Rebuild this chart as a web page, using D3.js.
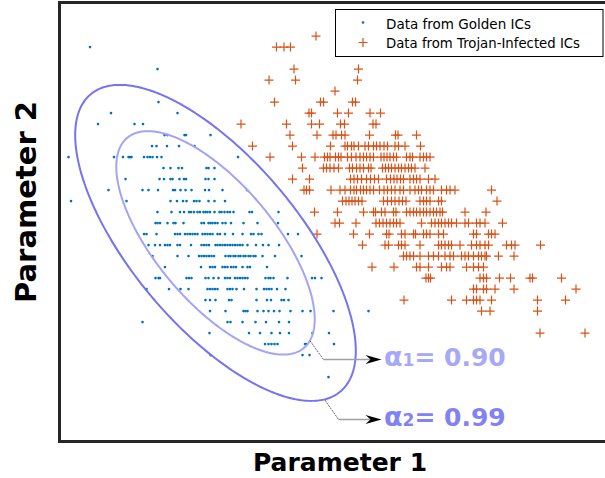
<!DOCTYPE html>
<html>
<head>
<meta charset="utf-8">
<script src="https://cdn.jsdelivr.net/npm/d3@7"></script>
<style>
  html, body { margin: 0; padding: 0; background: #fff; }
  svg { display: block; }
</style>
</head>
<body>
<svg id="chart" width="605" height="478"></svg>
<script>
// Parameter 1 readings of golden ICs, grouped by their (quantised) Parameter 2 level
const goldenRows = [
  [35, [6]],
  [33, [19.5]],
  [30, [19.7]],
  [29, [10.2, 23.5]],
  [28, [7.6, 14.9, 16.6]],
  [27, [20.9, 21.5, 24.9, 25.2, 30.1]],
  [26, [18.4, 19.3, 21.4, 23.8, 26.9]],
  [25, [1.7, 10.8, 12.6, 13.7, 14, 14.3, 16.8, 17.5, 18, 18.5, 19.4, 20.3, 35.6]],
  [24, [20.7, 22.1, 23.7, 24.4, 29.3, 29.7, 30.9]],
  [23, [13.1, 19.9, 20.8, 22.1, 22.5, 23.9, 24.8, 25.2, 29.1, 29.7, 30.9]],
  [22, [9.7, 16.5, 17.7, 19.6, 22.6, 23, 24.1, 25.1, 26.3, 29, 29.8, 32.5, 37.4]],
  [21, [2.2, 13.3, 22.1, 23.4, 24.6, 25.3, 26.8, 27.3, 27.9, 29.7, 30.9, 33]],
  [20, [19.5, 22.3, 24, 24.8, 25.8, 26.2, 26.8, 27.5, 28, 28.7, 29.1, 29.5, 30, 30.9, 31.9, 32.3, 32.9, 33.5, 34, 34.7, 37.9, 38.4, 43.7]],
  [19, [19.1, 19.5, 20, 21.5, 22.7, 23.1, 24.7, 28.3, 28.8, 29.7, 30.1, 30.5, 31, 31.5, 32.5, 33.1, 34.2, 36.7, 39.5, 43.6]],
  [18, [16.8, 17.3, 19.3, 23, 23.5, 24, 25, 25.5, 26, 26.5, 27, 27.5, 28.5, 29, 29.5, 30, 30.5, 31.5, 32, 33, 34.6, 36.5, 38.2, 38.7, 39.7, 40.3, 45.6, 47.6]],
  [17, [17.7, 19, 20, 21, 21.5, 22, 23.5, 24, 26.2, 28.3, 28.8, 29.3, 29.8, 31.1, 31.5, 32, 32.5, 33, 33.5, 34, 34.5, 35, 35.5, 36, 36.5, 37.5, 39.2, 40.6, 41.7, 43.8]],
  [16, [18.5, 23.5, 25.7, 27.8, 28.3, 28.8, 29.3, 29.8, 30.3, 30.8, 33.1, 33.7, 34.1, 34.7, 35.1, 35.7, 36.1, 36.7, 37.1, 37.7, 38.1, 38.7, 39.1, 40.5, 43, 48.3]],
  [15, [21, 28.2, 30, 30.5, 31, 32.5, 33, 33.5, 34.2, 34.7, 35.2, 36.5, 37.5, 38, 41.4]],
  [14, [19.1, 19.7, 20, 25.3, 25.8, 26.3, 29.1, 29.7, 30.7, 31.7, 33, 33.5, 34, 35, 35.5, 36, 36.5, 37, 37.5, 41.1, 41.7, 42.1, 42.7, 45.5, 50.4, 51, 52.3]],
  [13, [17.3, 21.8, 24.1, 25.7, 29.5, 30, 30.5, 31, 31.5, 33.5, 34, 34.5, 35.3, 36.8, 39.3, 40.8, 41.3, 41.8, 42.3, 43.4, 45.1]],
  [12, [29.1, 30, 31.1, 33.8, 34.3, 39.3, 41.4, 42.2, 44.3, 44.8, 45.7]],
  [11, [30, 33.1, 36.7, 37.1, 37.5, 39.5, 40.7, 41.7, 42.8, 43.9, 46.1, 48.5, 50.1, 54.7, 61.7]],
  [10, [16.5, 33.5, 34.1, 36.5, 39.1, 41.2, 43.8, 45.8]],
  [9,  [29.9, 37.8, 40, 42.3, 44, 45.8, 50.5, 53.8]],
  [8,  [41, 41.7, 42.3, 42.9, 43.5, 49, 49.4, 54.8]],
  [7,  [30.1, 48.5, 49.9]],
  [5,  [53.7]]
];

// Parameter 1 readings of Trojan-infected ICs, grouped by Parameter 2 level
const trojanRows = [
  [36, [51.2]],
  [35, [43.3, 44.8, 46.1]],
  [33, [46.8, 59.7]],
  [32, [41.8, 47.1, 59.5]],
  [31, [55]],
  [30, [42.9, 52.1, 52.7, 58.5, 59.1]],
  [29, [49.8, 50.3, 55.5, 57.7, 62, 64.1]],
  [28, [36.2, 45.3, 50.3, 51.9, 56.1, 56.9, 62.6, 63.2]],
  [27, [46, 51.4, 54.6, 55.2, 56.3, 57, 61.9, 67.1, 67.6, 71.3]],
  [26, [38.5, 46.5, 54.1, 57, 57.5, 58.3, 58.8, 59.7, 61, 61.7, 62.7, 63.3, 64, 64.8, 65.5, 67, 67.7, 69, 72.1]],
  [25, [42, 48.3, 51, 52.9, 53.5, 54, 55.1, 55.7, 56.2, 57.5, 58.3, 59.2, 60, 60.7, 61.3, 62, 62.7, 64.2, 64.8, 65.4, 66, 66.7, 67.3, 69.3, 70, 70.5, 72, 72.7, 73.3, 74]],
  [24, [48.5, 52.7, 53.3, 54, 54.8, 55.7, 57.9, 58.5, 59.3, 60, 60.7, 61.7, 62.2, 64.5, 65.1, 65.7, 66.3, 67, 67.7, 68.3, 69, 69.7, 70.3, 71, 73]],
  [23, [46.5, 49.9, 58.1, 58.8, 59.5, 60.3, 61.3, 62.1, 62.9, 63.7, 65.3, 66.1, 66.8, 67.4, 68.1, 68.7, 70, 70.7, 71.3, 72, 73.7, 75]],
  [22, [48.8, 49.3, 49.9, 54.2, 56, 57, 58.1, 58.8, 59.3, 60.1, 60.7, 61.3, 62, 62.7, 63.9, 64.8, 65.5, 66.3, 67, 68, 68.7, 70, 71, 71.7, 72.3, 73.3, 74, 74.7, 76.3, 77.3, 78, 79, 86.3]],
  [21, [56.5, 57.2, 57.8, 58.4, 59, 59.7, 60.4, 64.7, 65.5, 66.3, 67, 67.8, 68.5, 69.2, 72, 72.7, 73.3, 74, 75.7, 76.3, 87.4]],
  [20, [50.9, 55.5, 60.7, 62.7, 63.1, 64.3, 65, 66.7, 67.2, 69.3, 70, 70.7, 71.3, 72, 72.7, 73.3, 74, 74.7, 75.3, 76, 76.5, 81, 85.2]],
  [19, [55, 55.9, 59.2, 63.2, 63.9, 64.6, 65.3, 66, 66.7, 67.3, 68, 72.3, 74.3, 75, 75.7, 76.3, 77, 77.7, 78.3, 79.3, 81, 81.7, 83.3, 84, 85, 88.5]],
  [18, [51.4, 58.7, 61.9, 65.3, 65.8, 68.3, 69, 70.7, 71.1, 72.7, 73.3, 74, 75.7, 76.7, 82.7, 83.3, 85.7, 86.3, 87]],
  [17, [60.5, 65, 65.7, 67.7, 68.3, 69, 72, 75.7, 76.3, 77, 77.7, 78.3, 80, 82.3, 83.3, 84, 85, 85.7, 89.3, 90.3, 91, 96.1]],
  [16, [68.7, 69.3, 70, 70.7, 72, 73.7, 74.7, 75.7, 77, 78, 78.7, 80.3, 81, 81.7, 82.7, 83.7, 84.3, 85, 85.3, 87.7, 90.8]],
  [15, [62.4, 66.8, 71.3, 72, 73.7, 76.3, 77.3, 78, 81.3, 82.7, 83.7, 84.7]],
  [14, [73.2, 73.7, 74.1, 84, 84.7, 85.3, 87.9, 90.1, 94, 94.5, 100.3]],
  [13, [82.7, 83.3, 84.7, 85.3, 87, 90.8, 103.2]],
  [12, [68.8, 78.3, 81.3, 82.7, 83.3, 84, 86.3, 95.5, 101.1]],
  [11, [84.3, 86, 95.5]],
  [9,  [96, 105]]
];

// Golden-IC distribution used for the confidence regions
const goldenMean = [31.1, 17.2];
const goldenCov = [[85.5, -29.85], [-29.85, 22.4]];
const confidenceLevels = [0.90, 0.99];
// Where each confidence label's leader line starts and bends (data units)
const labelAnchors = [[50, 8.3], [53, 2.9]];
const labelElbows = [[52.7, 6.6], [55.7, 1.15]];
const labelX = 64.8;

const seriesNames = ["Data from Golden ICs", "Data from Trojan-Infected ICs"];
const axisTitles = ["Parameter 1", "Parameter 2"];

const BLUE = "#0072bd";
const ORANGE = "#d95319";
const ringColors = ["#a3a3f8", "#7474f3"];
const labelColors = ["#a8a8f8", "#8282f4"];

const svg = d3.select("#chart");

const x = d3.scaleLinear().domain([0, 109]).range([60, 605]);
const y = d3.scaleLinear().domain([-0.9, 39.1]).range([442, 2]);

const flatten = rows => rows.flatMap(([lvl, xs]) => xs.map(v => ({p1: v, p2: lvl})));
const golden = flatten(goldenRows);
const trojan = flatten(trojanRows);

// Trojan-infected samples: "+" markers
const plus = 4.5;
svg.append("g")
  .attr("stroke", ORANGE).attr("stroke-width", 1.2).attr("fill", "none")
  .selectAll("path").data(trojan).join("path")
  .attr("d", d => {
    const cx = x(d.p1), cy = y(d.p2);
    return `M${cx - plus},${cy}H${cx + plus}M${cx},${cy - plus}V${cy + plus}`;
  });

// Golden samples: small dots
svg.append("g").attr("fill", BLUE)
  .selectAll("circle").data(golden).join("circle")
  .attr("cx", d => x(d.p1)).attr("cy", d => y(d.p2)).attr("r", 1.3);

// Confidence ellipses of the golden distribution (chi-square, 2 dof)
function ellipse(alpha) {
  const c = -2 * Math.log(1 - alpha);
  const l11 = Math.sqrt(goldenCov[0][0]);
  const l21 = goldenCov[1][0] / l11;
  const l22 = Math.sqrt(goldenCov[1][1] - l21 * l21);
  const r = Math.sqrt(c);
  return d3.range(0, 360, 1).map(deg => {
    const t = deg * Math.PI / 180, u = Math.cos(t), w = Math.sin(t);
    return [goldenMean[0] + r * l11 * u, goldenMean[1] + r * (l21 * u + l22 * w)];
  });
}
const ring = d3.line().x(d => x(d[0])).y(d => y(d[1])).curve(d3.curveLinearClosed);
svg.append("g").attr("fill", "none")
  .selectAll("path").data(confidenceLevels).join("path")
  .attr("d", a => ring(ellipse(a)))
  .attr("stroke", (a, i) => ringColors[i])
  .attr("stroke-width", 2);

// Leader lines, arrows and labels for the confidence levels
const notes = svg.append("g");
confidenceLevels.forEach((a, i) => {
  const [ax, ay] = labelAnchors[i];
  const [ex, ey] = labelElbows[i];
  const tipX = x(labelX) - 2.5, py = y(ey);
  notes.append("line")
    .attr("x1", x(ax)).attr("y1", y(ay)).attr("x2", x(ex)).attr("y2", py)
    .attr("stroke", "#555").attr("stroke-width", 0.9).attr("stroke-dasharray", "2,1");
  notes.append("line")
    .attr("x1", x(ex)).attr("y1", py).attr("x2", tipX - 11).attr("y2", py)
    .attr("stroke", "#a0a0a0").attr("stroke-width", 1.4);
  notes.append("path")
    .attr("d", `M${tipX},${py}L${tipX - 16},${py - 4.5}L${tipX - 11},${py}L${tipX - 16},${py + 4.5}Z`)
    .attr("fill", "#000");
  const t = notes.append("text")
    .attr("x", x(labelX)).attr("y", py + 6.5)
    .attr("font-family", "DejaVu Sans, sans-serif").attr("font-weight", "bold")
    .attr("fill", labelColors[i]);
  t.append("tspan").attr("font-size", 27).text("α");
  t.append("tspan").attr("font-size", 17).text(String(i + 1));
  t.append("tspan").attr("font-size", 25).text("= " + a.toFixed(2));
});

// Plot frame
svg.append("rect")
  .attr("x", 59.5).attr("y", 2.5).attr("width", 560).attr("height", 439)
  .attr("fill", "none").attr("stroke", "#262626").attr("stroke-width", 3);

// Legend
const lg = svg.append("g");
lg.append("rect").attr("x", 335.5).attr("y", 9.5).attr("width", 267.5).attr("height", 47)
  .attr("fill", "#fff").attr("stroke", "#000").attr("stroke-width", 1);
lg.append("circle").attr("cx", 363).attr("cy", 22.5).attr("r", 1.3).attr("fill", BLUE);
lg.append("path").attr("d", `M${363 - plus},42.5H${363 + plus}M363,${42.5 - plus}V${42.5 + plus}`)
  .attr("stroke", ORANGE).attr("stroke-width", 1.2);
const legendWidths = [145, 194];
seriesNames.forEach((name, i) => {
  lg.append("text")
    .attr("x", 386).attr("y", 28.5 + i * 19.5)
    .attr("font-family", "DejaVu Sans, sans-serif").attr("font-size", 14.5)
    .attr("textLength", legendWidths[i]).attr("lengthAdjust", "spacingAndGlyphs")
    .attr("fill", "#000").text(name);
});

// Axis titles
svg.append("text")
  .attr("x", 340).attr("y", 471).attr("text-anchor", "middle")
  .attr("font-family", "DejaVu Sans, sans-serif").attr("font-weight", "bold").attr("font-size", 25)
  .attr("fill", "#000").text(axisTitles[0]);
svg.append("text")
  .attr("transform", "translate(36,202) rotate(-90)").attr("text-anchor", "middle")
  .attr("font-family", "DejaVu Sans, sans-serif").attr("font-weight", "bold").attr("font-size", 29)
  .attr("fill", "#000").text(axisTitles[1]);
</script>
</body>
</html>
